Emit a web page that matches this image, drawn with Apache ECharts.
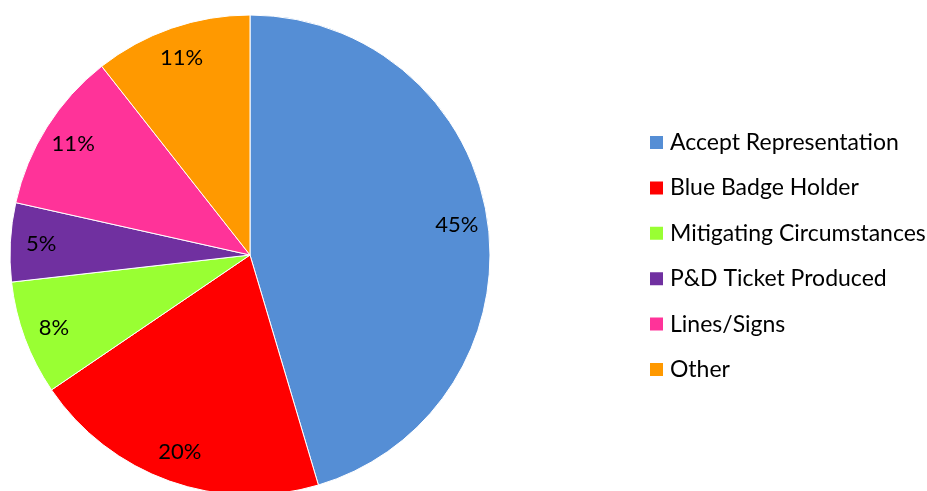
<!DOCTYPE html>
<html><head><meta charset="utf-8">
<script src="https://cdn.jsdelivr.net/npm/echarts@6/dist/echarts.min.js"></script>
<style>html,body{margin:0;padding:0;background:#fff}#c{width:927px;height:491px}</style>
</head><body><div id="c"></div>
<script>
const categories = ['Accept Representation','Blue Badge Holder','Mitigating Circumstances','P&D Ticket Produced','Lines/Signs','Other'];
const values = [45.4, 20.1, 7.7, 5.3, 10.9, 10.6];
const colors = ['#558ED5','#FF0000','#99FF33','#7030A0','#FF3399','#FF9900'];
const FONT = 'Lato';
const data = categories.map((n,i)=>({name:n,value:values[i],itemStyle:{color:colors[i]}}));
const chart = echarts.init(document.getElementById('c'));
chart.setOption({
  animation:false,
  legend:{orient:'vertical',left:643,top:126,itemWidth:15,itemHeight:15,itemGap:22.4,icon:'rect',
    textStyle:{fontFamily:FONT,fontSize:23,color:'#000',padding:[0,0,0,1]},data:categories},
  series:[
    {type:'pie',center:[250,255],radius:[0,240],startAngle:90,clockwise:true,label:{show:false},labelLine:{show:false},
      itemStyle:{borderColor:'#fff',borderWidth:1},emphasis:{disabled:true},data:data},
    {type:'pie',center:[250,255],radius:[172,240],startAngle:90,clockwise:true,silent:true,legendHoverLink:false,
      itemStyle:{color:'rgba(0,0,0,0)'},emphasis:{disabled:true},
      label:{show:true,position:'inside',fontFamily:FONT,fontSize:22,color:'#000',
        formatter:p=>Math.round(p.percent)+'%'},labelLine:{show:false},
      data:categories.map((n,i)=>({name:n+' ',value:values[i]}))}
  ]
});
</script></body></html>
